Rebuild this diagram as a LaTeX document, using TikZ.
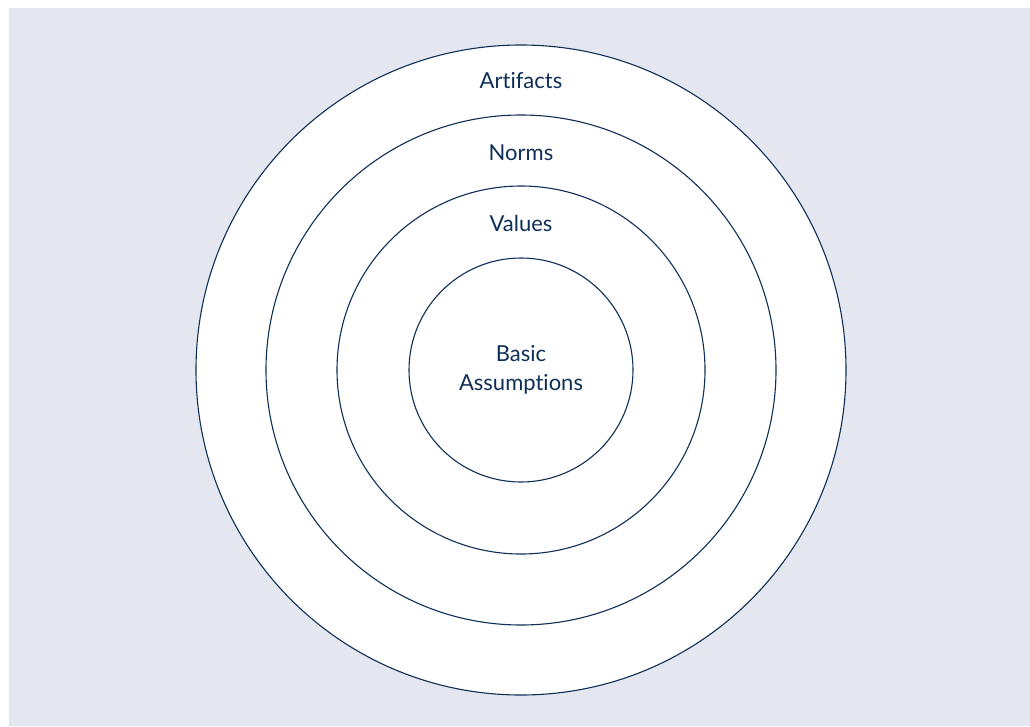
\documentclass[tikz,border=0pt]{standalone}
\usepackage{fontspec}
\setmainfont{Lato}[Ligatures={NoCommon}]
\definecolor{bgc}{HTML}{E4E7F0}
\definecolor{navy}{HTML}{0E2F56}
\begin{document}
\begin{tikzpicture}[x=1pt,y=-1pt,
  ring/.style={draw=navy,line width=1.1pt,fill=white},
  lbl/.style={text=navy,font=\fontsize{22}{29}\selectfont,align=center,inner sep=0pt}]
\useasboundingbox (0,0) rectangle (1030,726);
\fill[bgc] (9,8) rectangle (1030,726);
\draw[ring] (521,370) circle (325);
\draw[ring] (521,370) circle (255);
\draw[ring] (521,370) circle (184);
\draw[ring] (521,370) circle (112);
\node[lbl] (artifacts) at (521,81) {Artifacts};
\node[lbl] (norms) at (521,153) {Norms};
\node[lbl] (values) at (521,223) {Values};
\node[lbl] (basic) at (521,370) {Basic\\Assumptions};
\end{tikzpicture}
\end{document}
